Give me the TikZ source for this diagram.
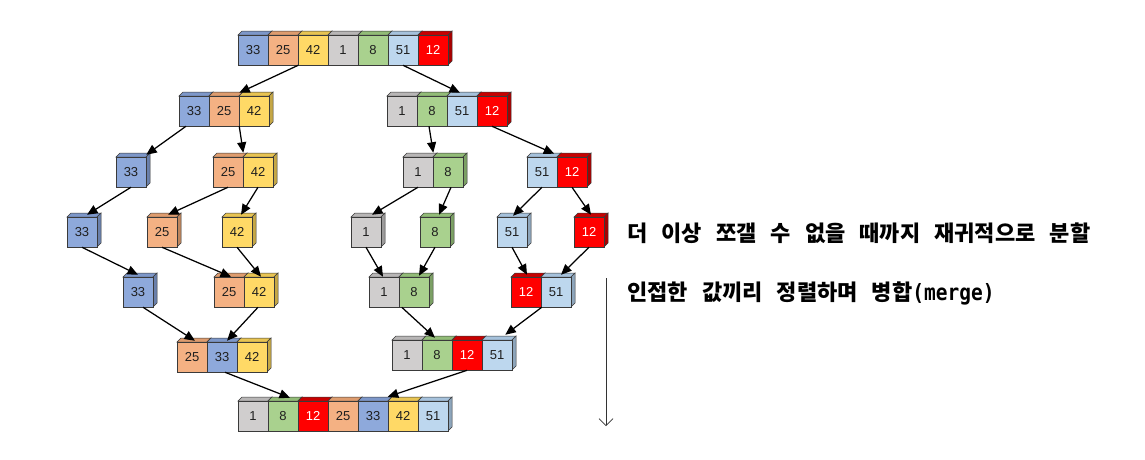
\documentclass[tikz,border=0pt]{standalone}
\usepackage{fontspec}
\setmainfont{Liberation Sans}
\newfontfamily\kr[WordSpace=2.8]{Noto Sans CJK KR}
\newfontfamily\monofam{DejaVu Sans Mono}
\usetikzlibrary{arrows.meta}
\definecolor{edge}{HTML}{3A3A3A}
\definecolor{c33}{HTML}{8EA9DB}\definecolor{s33}{HTML}{7D97C9}
\definecolor{c25}{HTML}{F4B183}\definecolor{s25}{HTML}{DE9C6E}
\definecolor{c42}{HTML}{FFD966}\definecolor{s42}{HTML}{E8C452}
\definecolor{c1}{HTML}{D0CECE}\definecolor{s1}{HTML}{B8B6B6}
\definecolor{c8}{HTML}{A9D18E}\definecolor{s8}{HTML}{92BC77}
\definecolor{c51}{HTML}{BDD7EE}\definecolor{s51}{HTML}{A6C2DC}
\definecolor{c12}{HTML}{FF0000}\definecolor{s12}{HTML}{C80000}
\definecolor{t33}{HTML}{1F1F1F}\definecolor{t25}{HTML}{1F1F1F}
\definecolor{t42}{HTML}{1F1F1F}\definecolor{t1}{HTML}{1F1F1F}
\definecolor{t8}{HTML}{1F1F1F}\definecolor{t51}{HTML}{1F1F1F}
\colorlet{t12}{white}
\definecolor{arrowgray}{HTML}{333333}
\tikzset{
  cell/.style={draw=edge, line width=0.5pt, minimum width=30pt, minimum height=30pt,
    inner sep=0pt, font=\fontsize{13}{13}\selectfont},
  face/.style={draw=edge, line width=0.5pt},
  arr/.style={-{Triangle[length=10.5pt,width=9pt]}, line width=1.25pt, black},
  note/.style={anchor=west, inner sep=0pt, font=\kr\bfseries\fontsize{22}{22}\selectfont}
}
\newcommand\cb[4]{%
  \filldraw[face, fill=s#4] (#2-15,#3-15) -- ++(4,-4) -- ++(30,0) -- ++(-4,4) -- cycle;
  \filldraw[face, fill=s#4!85!black] (#2+15,#3-15) -- ++(4,-4) -- ++(0,30) -- ++(-4,4) -- cycle;
  \node[cell, fill=c#4, text=t#4] (#1) at (#2,#3) {#4};%
}
\begin{document}
\begin{tikzpicture}[x=1pt,y=-1pt]
\fill[white] (0,0) rectangle (1145,459);
\useasboundingbox (0,0) rectangle (1145,459);
% row 1
\cb{r1a}{253}{50}{33}\cb{r1b}{283}{50}{25}\cb{r1c}{313}{50}{42}\cb{r1d}{343}{50}{1}
\cb{r1e}{373}{50}{8}\cb{r1f}{403}{50}{51}\cb{r1g}{433}{50}{12}
% row 2
\cb{l2a}{194}{111}{33}\cb{l2b}{224}{111}{25}\cb{l2c}{254}{111}{42}
\cb{q2a}{402}{111}{1}\cb{q2b}{432}{111}{8}\cb{q2c}{462}{111}{51}\cb{q2d}{492}{111}{12}
% row 3
\cb{l3a}{131}{172}{33}
\cb{l3b}{228}{172}{25}\cb{l3c}{258}{172}{42}
\cb{q3a}{418}{172}{1}\cb{q3b}{448}{172}{8}
\cb{q3c}{542}{172}{51}\cb{q3d}{572}{172}{12}
% row 4
\cb{l4a}{82}{232}{33}\cb{l4b}{162}{232}{25}\cb{l4c}{237}{232}{42}
\cb{q4a}{366}{232}{1}\cb{q4b}{435}{232}{8}\cb{q4c}{512}{232}{51}\cb{q4d}{589}{232}{12}
% row 5
\cb{l5a}{138}{292}{33}
\cb{l5b}{229}{292}{25}\cb{l5c}{259}{292}{42}
\cb{q5a}{384}{292}{1}\cb{q5b}{414}{292}{8}
\cb{q5c}{526}{292}{12}\cb{q5d}{556}{292}{51}
% row 6
\cb{l6a}{192}{357}{25}\cb{l6b}{222}{357}{33}\cb{l6c}{252}{357}{42}
\cb{q6a}{407}{355}{1}\cb{q6b}{437}{355}{8}\cb{q6c}{467}{355}{12}\cb{q6d}{497}{355}{51}
% row 7
\cb{f1}{253}{416}{1}\cb{f2}{283}{416}{8}\cb{f3}{313}{416}{12}\cb{f4}{343}{416}{25}
\cb{f5}{373}{416}{33}\cb{f6}{403}{416}{42}\cb{f7}{433}{416}{51}
% arrows
\draw[arr] (r1b.south east) -- ([yshift=3pt]l2b.north east);
\draw[arr] (r1f.south) -- ([xshift=-2pt,yshift=3pt]q2c.north);
\draw[arr] ([xshift=-8pt]l2a.south) -- ([yshift=2pt]l3a.north east);
\draw[arr] (l2b.south east) -- ([yshift=4pt]l3b.north east);
\draw[arr] ([xshift=-3pt]q2b.south) -- ([yshift=4pt]q3a.north east);
\draw[arr] (q2d.south) -- ([xshift=-3pt,yshift=3pt]q3c.north east);
\draw[arr] (l3a.south) -- ([xshift=5pt,yshift=2pt]l4a.north);
\draw[arr] (l3b.south) -- ([xshift=6pt,yshift=2pt]l4b.north);
\draw[arr] (l3c.south) -- ([xshift=4pt,yshift=2pt]l4c.north);
\draw[arr] (q3a.south) -- ([xshift=6pt,yshift=2pt]q4a.north);
\draw[arr] ([xshift=3pt]q3b.south) -- ([xshift=4pt,yshift=2pt]q4b.north);
\draw[arr] (q3c.south) -- ([xshift=1pt,yshift=1pt]q4c.north);
\draw[arr] (q3d.south) -- ([xshift=2pt,yshift=2pt]q4d.north);
\draw[arr] (l4a.south) -- ([yshift=2pt]l5a.north);
\draw[arr] (l4b.south) -- ([xshift=2pt]l5b.north);
\draw[arr] (l4c.south) -- ([xshift=2pt]l5c.north);
\draw[arr] (q4a.south) -- ([xshift=-1pt]q5a.north);
\draw[arr] (q4b.south) -- ([xshift=5pt,yshift=1pt]q5b.north);
\draw[arr] (q4c.south) -- ([xshift=1pt,yshift=2pt]q5c.north);
\draw[arr] (q4d.south) -- ([xshift=5pt,yshift=2pt]q5d.north);
\draw[arr] ([xshift=5pt]l5a.south) -- ([xshift=3pt,yshift=1pt]l6a.north);
\draw[arr] ([xshift=-1pt]l5c.south) -- ([xshift=5pt,yshift=1pt]l6b.north);
\draw[arr] ([xshift=3pt]q5b.south west) -- ([xshift=-2pt,yshift=2pt]q6b.north);
\draw[arr] ([xshift=1pt]q5d.south west) -- ([xshift=-7pt,yshift=5pt]q6d.north east);
\draw[arr] ([xshift=3pt]l6b.south) -- ([xshift=7pt,yshift=3pt]f2.north);
\draw[arr] (q6c.south) -- ([yshift=4pt]f6.north west);
% notes
\node[note] (n1) at (627,233) {더 이상 쪼갤 수 없을 때까지 재귀적으로 분할};
\node[note] (n2) at (627,293) {인접한 값끼리 정렬하며 병합{\monofam\bfseries\fontsize{19.5}{19.5}\selectfont\scalebox{1}[1.15]{(merge)}}};
\coordinate (va) at (606,278);
\coordinate (vb) at (606,426);
\draw[arrowgray, line width=0.7pt, -{Straight Barb[length=7pt,width=14pt,line width=0.7pt]}] (va) -- (vb);
\end{tikzpicture}
\end{document}
